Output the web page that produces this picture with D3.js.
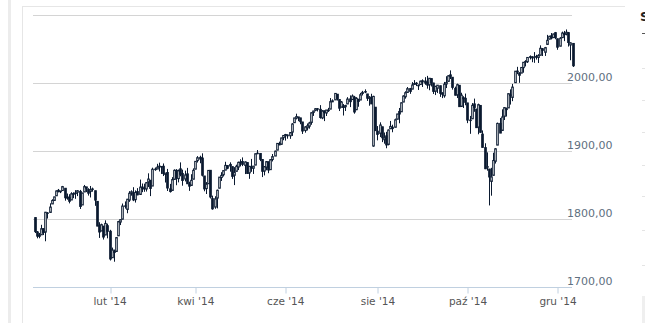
<!DOCTYPE html>
<html>
<head>
<meta charset="utf-8">
<script src="https://cdn.jsdelivr.net/npm/d3@7"></script>
<style>
  html, body { margin: 0; padding: 0; background: #fff; }
  svg { display: block; }
  text { font-family: "DejaVu Sans", Verdana, sans-serif; }
</style>
</head>
<body>
<svg id="chart" width="645" height="323"></svg>
<script>
// Trading sessions, 11 Dec 2013 – 10 Dec 2014
const dates = [
  "2013-12-11","2013-12-12","2013-12-13","2013-12-16","2013-12-17","2013-12-18","2013-12-19","2013-12-20","2013-12-23","2013-12-24","2013-12-26","2013-12-27","2013-12-30","2013-12-31",
  "2014-01-02","2014-01-03","2014-01-06","2014-01-07","2014-01-08","2014-01-09","2014-01-10","2014-01-13","2014-01-14","2014-01-15","2014-01-16","2014-01-17","2014-01-21","2014-01-22","2014-01-23","2014-01-24","2014-01-27","2014-01-28","2014-01-29","2014-01-30","2014-01-31",
  "2014-02-03","2014-02-04","2014-02-05","2014-02-06","2014-02-07","2014-02-10","2014-02-11","2014-02-12","2014-02-13","2014-02-14","2014-02-18","2014-02-19","2014-02-20","2014-02-21","2014-02-24","2014-02-25","2014-02-26","2014-02-27","2014-02-28",
  "2014-03-03","2014-03-04","2014-03-05","2014-03-06","2014-03-07","2014-03-10","2014-03-11","2014-03-12","2014-03-13","2014-03-14","2014-03-17","2014-03-18","2014-03-19","2014-03-20","2014-03-21","2014-03-24","2014-03-25","2014-03-26","2014-03-27","2014-03-28","2014-03-31",
  "2014-04-01","2014-04-02","2014-04-03","2014-04-04","2014-04-07","2014-04-08","2014-04-09","2014-04-10","2014-04-11","2014-04-14","2014-04-15","2014-04-16","2014-04-17","2014-04-21","2014-04-22","2014-04-23","2014-04-24","2014-04-25","2014-04-28","2014-04-29","2014-04-30",
  "2014-05-01","2014-05-02","2014-05-05","2014-05-06","2014-05-07","2014-05-08","2014-05-09","2014-05-12","2014-05-13","2014-05-14","2014-05-15","2014-05-16","2014-05-19","2014-05-20","2014-05-21","2014-05-22","2014-05-23","2014-05-27","2014-05-28","2014-05-29","2014-05-30",
  "2014-06-02","2014-06-03","2014-06-04","2014-06-05","2014-06-06","2014-06-09","2014-06-10","2014-06-11","2014-06-12","2014-06-13","2014-06-16","2014-06-17","2014-06-18","2014-06-19","2014-06-20","2014-06-23","2014-06-24","2014-06-25","2014-06-26","2014-06-27","2014-06-30",
  "2014-07-01","2014-07-02","2014-07-03","2014-07-07","2014-07-08","2014-07-09","2014-07-10","2014-07-11","2014-07-14","2014-07-15","2014-07-16","2014-07-17","2014-07-18","2014-07-21","2014-07-22","2014-07-23","2014-07-24","2014-07-25","2014-07-28","2014-07-29","2014-07-30","2014-07-31",
  "2014-08-01","2014-08-04","2014-08-05","2014-08-06","2014-08-07","2014-08-08","2014-08-11","2014-08-12","2014-08-13","2014-08-14","2014-08-15","2014-08-18","2014-08-19","2014-08-20","2014-08-21","2014-08-22","2014-08-25","2014-08-26","2014-08-27","2014-08-28","2014-08-29",
  "2014-09-02","2014-09-03","2014-09-04","2014-09-05","2014-09-08","2014-09-09","2014-09-10","2014-09-11","2014-09-12","2014-09-15","2014-09-16","2014-09-17","2014-09-18","2014-09-19","2014-09-22","2014-09-23","2014-09-24","2014-09-25","2014-09-26","2014-09-29","2014-09-30",
  "2014-10-01","2014-10-02","2014-10-03","2014-10-06","2014-10-07","2014-10-08","2014-10-09","2014-10-10","2014-10-13","2014-10-14","2014-10-15","2014-10-16","2014-10-17","2014-10-20","2014-10-21","2014-10-22","2014-10-23","2014-10-24","2014-10-27","2014-10-28","2014-10-29","2014-10-30","2014-10-31",
  "2014-11-03","2014-11-04","2014-11-05","2014-11-06","2014-11-07","2014-11-10","2014-11-11","2014-11-12","2014-11-13","2014-11-14","2014-11-17","2014-11-18","2014-11-19","2014-11-20","2014-11-21","2014-11-24","2014-11-25","2014-11-26","2014-11-28",
  "2014-12-01","2014-12-02","2014-12-03","2014-12-04","2014-12-05","2014-12-08","2014-12-09","2014-12-10"
];

const open = [
  1802.8,1781.7,1777.0,1777.5,1786.5,1781.5,1809.0,1810.4,1822.9,1828.0,1834.9,1842.9,1841.5,1842.6,
  1845.9,1833.2,1832.3,1828.7,1837.9,1839.0,1840.1,1841.3,1821.4,1840.5,1847.9,1844.2,1841.1,1844.7,1842.3,1826.6,1791.0,1783.0,1790.2,1777.2,1790.9,
  1782.7,1743.8,1753.4,1753.0,1776.0,1796.2,1800.4,1820.1,1814.8,1828.5,1839.0,1838.9,1829.2,1841.1,1836.8,1847.7,1845.8,1844.9,1855.1,
  1857.7,1849.2,1874.1,1874.2,1878.5,1877.9,1878.3,1866.2,1869.1,1845.1,1842.8,1858.9,1872.3,1860.1,1874.5,1867.7,1859.5,1867.1,1852.1,1850.1,1859.2,
  1874.0,1886.6,1891.4,1890.3,1863.9,1845.5,1852.6,1872.3,1830.7,1818.2,1831.5,1846.0,1861.7,1865.8,1872.6,1879.3,1881.0,1877.7,1865.0,1870.8,1877.1,
  1884.4,1885.3,1879.5,1883.7,1868.5,1877.4,1875.3,1880.0,1896.8,1897.1,1888.2,1871.2,1876.7,1884.9,1873.3,1888.2,1893.3,1902.0,1911.8,1910.6,1920.3,
  1923.9,1923.1,1923.1,1928.5,1942.4,1949.0,1950.3,1949.4,1943.4,1930.8,1934.8,1937.2,1942.7,1957.5,1960.5,1962.9,1962.0,1949.3,1959.9,1956.6,1960.8,
  1962.3,1973.1,1975.9,1984.2,1976.4,1965.1,1966.7,1965.8,1969.9,1977.4,1976.4,1979.8,1961.5,1976.9,1975.7,1985.3,1988.1,1984.6,1978.3,1980.0,1908.0,1965.1,
  1929.8,1926.6,1936.3,1917.3,1923.0,1910.4,1933.4,1935.7,1935.6,1947.4,1958.9,1958.4,1972.7,1980.5,1986.8,1992.6,1991.7,1998.6,2000.5,1997.4,1998.5,
  2004.1,2003.6,2001.7,1998.0,2007.2,2000.7,1988.4,1992.9,1996.7,1986.0,1981.9,1999.3,2003.1,2012.7,2009.1,1992.8,1983.3,1997.3,1966.2,1979.0,1978.2,
  1971.4,1945.8,1948.1,1970.0,1962.4,1935.6,1967.7,1925.6,1905.7,1877.1,1874.2,1856.0,1864.9,1885.6,1909.4,1941.3,1931.0,1951.6,1963.0,1964.1,1983.3,1979.5,2001.2,
  2018.2,2015.8,2015.3,2023.3,2032.4,2032.0,2038.2,2037.8,2039.2,2039.7,2038.3,2041.5,2051.2,2045.9,2057.5,2065.1,2070.2,2067.4,2074.8,
  2065.8,2054.8,2067.5,2073.6,2072.8,2074.8,2056.6,2058.9
];

const high = [
  1803.0,1783.0,1780.2,1792.2,1786.8,1811.1,1810.9,1823.8,1829.8,1833.3,1842.8,1844.9,1842.5,1849.4,
  1845.9,1838.2,1837.2,1840.1,1840.0,1843.2,1843.2,1843.5,1839.3,1850.8,1847.9,1846.0,1849.3,1846.9,1842.3,1826.6,1796.0,1793.9,1790.2,1798.8,1793.9,
  1784.8,1758.7,1755.8,1774.1,1798.0,1799.9,1823.5,1826.6,1830.3,1841.7,1842.9,1847.5,1842.8,1846.1,1858.7,1852.9,1852.7,1854.5,1867.9,
  1857.7,1876.2,1876.5,1881.9,1883.6,1877.9,1882.4,1868.4,1874.4,1852.4,1862.3,1873.8,1874.1,1873.5,1884.0,1873.3,1871.9,1875.9,1855.6,1866.6,1875.2,
  1885.8,1893.2,1893.8,1897.3,1864.0,1855.0,1872.4,1872.5,1835.1,1834.2,1844.0,1862.3,1869.6,1871.9,1884.9,1879.8,1884.1,1877.7,1877.0,1880.6,1885.2,
  1888.6,1891.3,1885.5,1883.7,1878.8,1889.1,1878.6,1897.1,1902.2,1897.1,1888.2,1878.3,1886.0,1884.9,1888.8,1896.3,1901.3,1912.3,1914.5,1920.0,1924.0,
  1925.9,1925.1,1928.6,1941.7,1949.4,1955.6,1950.9,1949.4,1943.4,1937.3,1941.2,1943.7,1957.7,1959.9,1963.9,1963.7,1968.2,1960.8,1959.9,1961.0,1964.2,
  1978.6,1976.7,1985.6,1984.2,1976.4,1974.2,1969.8,1968.7,1979.9,1982.5,1983.9,1981.8,1979.9,1976.9,1986.2,1989.2,1991.4,1984.6,1981.5,1984.9,1982.0,1965.1,
  1937.4,1942.9,1936.3,1927.9,1928.9,1932.4,1944.9,1939.4,1948.4,1955.2,1964.0,1972.0,1982.6,1988.6,1994.8,1993.5,2002.0,2005.0,2002.1,1998.6,2004.3,
  2006.1,2009.3,2011.2,2007.7,2007.2,2001.0,1996.7,1997.7,1996.7,1987.2,2002.3,2010.7,2012.3,2019.3,2009.1,1995.4,1999.8,1997.3,1986.4,1981.3,1985.2,
  1971.4,1952.3,1971.2,1977.8,1962.4,1970.4,1967.7,1931.0,1912.1,1898.7,1874.2,1876.0,1898.2,1905.0,1942.5,1949.3,1962.0,1965.3,1964.6,1985.1,1991.4,1999.4,2018.2,
  2024.5,2016.0,2023.8,2031.6,2034.3,2038.7,2041.3,2040.3,2046.2,2042.2,2043.1,2056.1,2052.1,2053.8,2071.5,2070.2,2074.2,2073.3,2075.8,
  2065.8,2068.2,2076.3,2077.3,2079.5,2075.8,2060.6,2058.9
];

const low = [
  1780.1,1772.3,1772.4,1777.5,1777.1,1768.0,1801.4,1810.3,1822.9,1828.0,1834.9,1839.8,1838.8,1842.4,
  1827.7,1829.1,1823.7,1828.7,1831.4,1830.4,1834.4,1815.5,1821.4,1840.5,1840.3,1835.2,1832.4,1840.9,1820.1,1790.3,1772.9,1783.0,1770.5,1777.2,1772.3,
  1739.7,1743.8,1737.9,1753.0,1776.0,1791.8,1800.4,1816.0,1809.2,1825.9,1835.0,1827.0,1824.9,1835.6,1836.8,1840.2,1840.7,1841.1,1847.7,
  1834.4,1849.2,1871.6,1874.2,1870.6,1867.0,1863.9,1854.4,1841.9,1839.6,1842.8,1858.9,1850.4,1854.6,1863.5,1849.7,1856.0,1852.6,1842.1,1850.1,1859.2,
  1874.0,1883.8,1882.7,1863.3,1841.5,1837.5,1852.4,1830.9,1814.4,1815.8,1816.3,1846.0,1856.7,1863.2,1872.6,1873.9,1870.3,1859.7,1850.6,1870.8,1872.7,
  1878.0,1878.5,1866.8,1867.7,1859.8,1870.1,1867.0,1880.0,1896.1,1885.8,1862.4,1864.8,1872.4,1868.1,1873.3,1885.4,1893.3,1902.0,1909.2,1909.8,1916.6,
  1916.0,1918.8,1918.6,1922.9,1942.4,1947.2,1944.6,1940.1,1925.8,1927.7,1930.9,1933.6,1939.3,1952.3,1959.2,1958.9,1948.3,1947.5,1944.7,1952.2,1958.2,
  1962.3,1972.6,1975.9,1974.9,1959.5,1965.1,1952.9,1959.6,1969.9,1965.3,1975.7,1955.6,1960.8,1965.8,1975.7,1982.4,1985.8,1974.4,1967.3,1970.0,1907.0,1930.7,
  1916.4,1921.2,1913.8,1911.5,1904.8,1909.0,1933.4,1928.3,1935.6,1947.4,1941.5,1958.4,1972.7,1977.7,1986.8,1984.8,1991.7,1998.6,1996.2,1990.5,1998.5,
  1994.9,1998.1,1992.4,1990.1,1995.6,1984.6,1983.0,1985.9,1980.3,1978.5,1979.1,1993.3,2003.1,2006.6,1991.0,1982.4,1978.6,1966.0,1966.2,1964.0,1968.0,
  1941.7,1926.0,1948.1,1958.4,1935.1,1925.3,1927.6,1906.0,1874.1,1871.8,1820.7,1835.0,1864.9,1882.3,1909.4,1927.1,1931.0,1946.3,1951.4,1964.1,1969.0,1974.0,2001.2,
  2013.7,2001.0,2015.3,2015.9,2025.1,2030.2,2035.3,2031.3,2030.4,2035.2,2030.2,2041.5,2040.4,2040.5,2056.8,2065.1,2064.8,2067.0,2065.1,
  2049.6,2054.8,2066.7,2062.3,2070.8,2054.3,2034.2,2024.3
];

const close = [
  1782.2,1775.5,1775.3,1786.5,1781.0,1810.7,1809.6,1818.3,1828.0,1833.3,1842.0,1841.4,1841.1,1848.4,
  1832.0,1831.4,1826.8,1837.9,1837.5,1838.1,1842.4,1819.2,1838.9,1848.4,1845.9,1838.7,1843.8,1844.9,1828.5,1790.3,1781.6,1792.5,1774.2,1794.2,1782.6,
  1741.9,1755.2,1751.6,1773.4,1797.0,1799.8,1819.8,1819.3,1829.8,1838.6,1840.8,1828.8,1839.8,1836.3,1847.6,1845.1,1845.2,1854.3,1859.5,
  1845.7,1873.9,1873.8,1877.0,1878.0,1877.2,1867.6,1868.2,1846.3,1841.1,1858.8,1872.3,1860.8,1872.0,1866.5,1857.4,1865.6,1852.6,1849.0,1857.6,1872.3,
  1885.5,1890.9,1888.8,1865.1,1845.0,1852.0,1872.2,1833.1,1815.7,1830.6,1843.0,1862.3,1864.9,1871.9,1879.6,1875.4,1878.6,1863.4,1869.4,1878.3,1884.0,
  1883.7,1881.1,1884.7,1867.7,1878.2,1875.6,1878.5,1896.7,1897.5,1888.5,1870.9,1877.9,1885.1,1872.8,1888.0,1892.5,1900.5,1911.9,1909.8,1920.0,1923.6,
  1925.0,1924.2,1927.9,1940.5,1949.4,1951.3,1950.8,1943.9,1930.1,1936.2,1937.8,1942.0,1957.0,1959.5,1962.9,1962.6,1950.0,1959.5,1957.2,1961.0,1960.2,
  1973.3,1974.6,1985.4,1977.7,1963.7,1972.8,1964.7,1967.6,1977.1,1973.3,1981.6,1958.1,1978.2,1973.6,1983.5,1987.0,1988.0,1978.3,1978.9,1970.0,1981.0,1930.7,
  1925.2,1939.0,1920.2,1920.2,1909.6,1931.6,1936.9,1933.8,1946.7,1955.2,1955.1,1971.7,1981.6,1986.5,1992.4,1988.4,1997.9,2000.0,2000.1,1996.7,2003.4,
  2002.3,2000.7,1997.7,2007.7,2001.5,1988.4,1995.7,1997.5,1985.5,1984.1,1999.0,2001.6,2011.4,2010.4,1994.3,1982.8,1998.3,1966.0,1982.9,1977.8,1972.3,
  1946.2,1946.2,1967.9,1964.8,1935.1,1968.9,1928.2,1906.1,1874.7,1877.7,1862.5,1862.8,1886.8,1904.0,1941.3,1927.1,1950.8,1964.6,1961.6,1985.1,1982.3,1994.7,2018.1,
  2017.8,2012.1,2023.6,2031.2,2031.9,2038.3,2039.7,2038.3,2039.3,2039.8,2041.3,2051.8,2048.7,2052.8,2063.5,2069.4,2067.0,2072.8,2067.6,
  2053.4,2066.6,2074.3,2071.9,2075.4,2060.3,2059.8,2026.1
];

// Axis ticks
const tickDates  = ["2014-02-03","2014-04-01","2014-06-02","2014-08-01","2014-10-01","2014-12-01"];
const tickLabels = ["lut '14","kwi '14","cze '14","sie '14","paź '14","gru '14"];
const yTicks = [1700, 1800, 1900, 2000, 2100];

const svg = d3.select("#chart");

// page frame
svg.append("rect").attr("x", 8).attr("y", 0).attr("width", 3).attr("height", 323).attr("fill", "#ececec");
svg.append("line").attr("x1", 22.5).attr("x2", 22.5).attr("y1", 6).attr("y2", 323).attr("stroke", "#e6e6e6");
svg.append("line").attr("x1", 22).attr("x2", 625).attr("y1", 6.5).attr("y2", 6.5).attr("stroke", "#e6e6e6");

// neighbouring side panel
svg.append("text").attr("x", 640).attr("y", 21).attr("font-size", 13).attr("font-weight", "bold")
  .attr("fill", "#222").text("S");
svg.append("line").attr("x1", 642).attr("x2", 645).attr("y1", 33.5).attr("y2", 33.5).attr("stroke", "#555");
[68, 100, 132, 165, 196, 230, 265].forEach(yy => {
  svg.append("line").attr("x1", 642).attr("x2", 645).attr("y1", yy + 0.5).attr("y2", yy + 0.5).attr("stroke", "#e4e4e4");
});
svg.append("rect").attr("x", 642).attr("y", 296).attr("width", 3).attr("height", 27).attr("fill", "#efefef");

// scales
const plotLeft = 33, plotRight = 572;
const x = d3.scalePoint().domain(dates).range([34.5, 572.5]);
const y = d3.scaleLinear().domain([1700, 2100]).range([287.5, 15.5]);

// horizontal grid
svg.append("g").selectAll("line").data(yTicks.filter(v => v > 1700)).join("line")
  .attr("x1", plotLeft).attr("x2", plotRight)
  .attr("y1", d => y(d)).attr("y2", d => y(d))
  .attr("stroke", "#d4d4d4").attr("stroke-width", 1);

// value labels on the right
const fmt = v => d3.format(".2f")(v).replace(".", ",");
svg.append("g").selectAll("text").data(yTicks.filter(v => v < 2100)).join("text")
  .attr("x", 567).attr("y", d => y(d) - 2.5)
  .attr("font-size", 11).attr("fill", "#607080")
  .text(fmt);

// x axis
const xAxis = d3.axisBottom(x)
  .tickValues(tickDates)
  .tickFormat((d, i) => tickLabels[i])
  .tickSize(6).tickSizeOuter(0).tickPadding(4);
const gx = svg.append("g").attr("transform", "translate(0,287.5)").call(xAxis);
gx.select(".domain").remove();
gx.append("line").attr("x1", plotLeft).attr("x2", plotRight).attr("y1", 0).attr("y2", 0)
  .attr("stroke", "#c0d0e0");
gx.selectAll(".tick line").attr("stroke", "#c0d0e0")
  .attr("transform", d => `translate(${Math.round(x(d)) + 0.5 - x(d)},0)`);
gx.selectAll(".tick text").attr("font-size", 10.5).attr("fill", "#555")
  .attr("font-family", "'DejaVu Sans', Verdana, sans-serif");

// candles
const dark = "#0b1a30";
const bodyW = 1.6;
const candles = svg.append("g").selectAll("g").data(dates.map((d, i) => i)).join("g");
candles.append("line")
  .attr("x1", i => Math.round(x(dates[i])) + 0.5)
  .attr("x2", i => Math.round(x(dates[i])) + 0.5)
  .attr("y1", i => y(high[i])).attr("y2", i => y(low[i]))
  .attr("stroke", dark).attr("stroke-width", 1);
candles.append("rect")
  .attr("x", i => Math.round(x(dates[i])) + 0.5 - bodyW / 2)
  .attr("width", bodyW)
  .attr("y", i => y(Math.max(open[i], close[i])))
  .attr("height", i => Math.max(0.5, Math.abs(y(open[i]) - y(close[i]))))
  .attr("fill", i => close[i] >= open[i] ? "#ffffff" : dark)
  .attr("stroke", dark).attr("stroke-width", 1);
</script>
</body>
</html>
